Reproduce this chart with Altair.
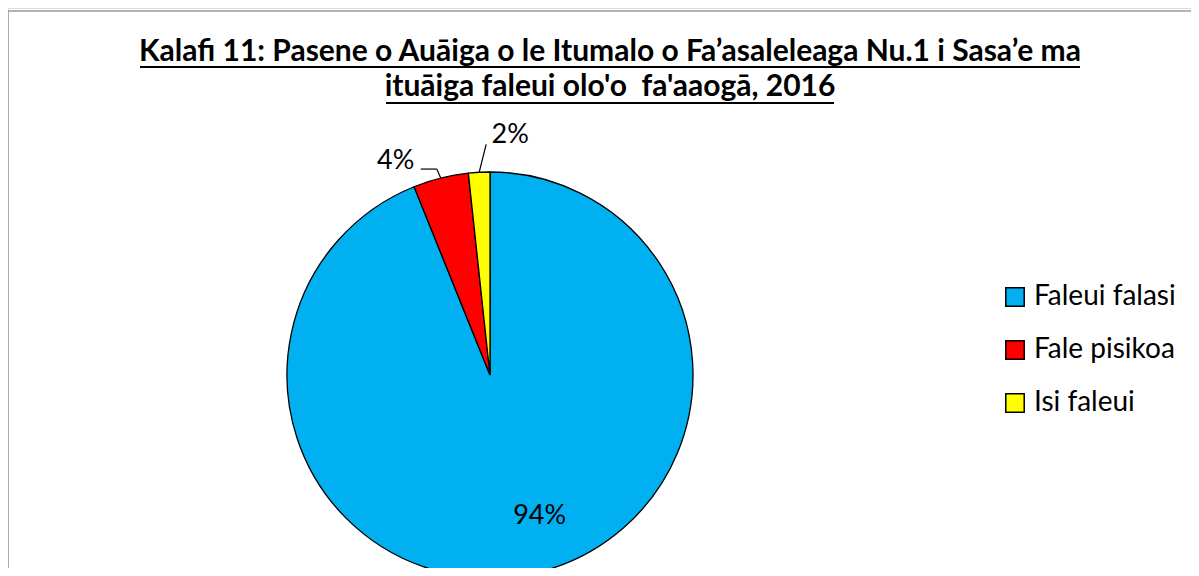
import altair as alt
import pandas as pd

# ---- data ----
categories = ["Faleui falasi", "Fale pisikoa", "Isi faleui"]
shares = [93.9, 4.4, 1.7]
pct_labels = ["94%", "4%", "2%"]
slice_order = [0, 1, 2]
colors = ["#00B0F0", "#FF0000", "#FFFF00"]

title_lines = [
    "Kalafi 11: Pasene o Auāiga o le Itumalo o Fa’asaleleaga Nu.1 i Sasa’e ma",
    "ituāiga faleui olo'o \u00a0fa'aaogā, 2016",
]

df = pd.DataFrame({"cat": categories, "share": shares, "label": pct_labels, "ord": slice_order})

FONT = "Lato"
W, H = 1183, 560
CX, CY, R = 482, 367, 203

base = alt.Chart(df)
theta = alt.Theta("share:Q", stack=True)
order = alt.Order("ord:Q")

pie = base.mark_arc(radius=R, stroke="black", strokeWidth=1.3).encode(
    theta=theta,
    order=order,
    color=alt.Color(
        "cat:N",
        scale=alt.Scale(domain=categories, range=colors),
        sort=categories,
        legend=alt.Legend(
            title=None,
            orient="none",
            legendX=993,
            legendY=275,
            symbolType="square",
            symbolSize=340,
            symbolStrokeColor="black",
            symbolStrokeWidth=1.5,
            labelFont=FONT,
            labelFontSize=28,
            labelColor="black",
            labelOffset=5,
            labelLimit=400,
            rowPadding=25,
        ),
    ),
    x=alt.value(CX),
    y=alt.value(CY),
)


def label_layer(cat, radius, dx, dy):
    return base.mark_text(
        radius=radius, dx=dx, dy=dy, font=FONT, fontSize=27, color="black",
        align="center", baseline="middle",
    ).encode(
        theta=theta,
        order=order,
        text=alt.condition(alt.datum.cat == cat, "label:N", alt.value("")),
        x=alt.value(CX),
        y=alt.value(CY),
    )


lab_big = label_layer("Faleui falasi", 145, 22, -1)
lab_red = label_layer("Fale pisikoa", R, -45, -17)
lab_yel = label_layer("Isi faleui", R, 31, -37)

geo = (
    base.transform_joinaggregate(total="sum(share)")
    .transform_window(cum="sum(share)", sort=[alt.SortField("ord")], frame=[None, 0])
    .transform_calculate(mid="2*PI*(datum.cum - datum.share/2)/datum.total")
    .transform_calculate(
        ex=f"{CX} + {R}*sin(datum.mid)",
        ey=f"{CY} - {R}*cos(datum.mid)",
    )
)

lead_yel = geo.transform_filter(alt.datum.cat == "Isi faleui").transform_calculate(
    x2="datum.ex + 7", y2="datum.ey - 28"
).mark_rule(color="black", strokeWidth=1.2).encode(
    x=alt.X("ex:Q", scale=None, axis=None),
    y=alt.Y("ey:Q", scale=None, axis=None),
    x2="x2:Q",
    y2="y2:Q",
)

lead_red1 = geo.transform_filter(alt.datum.cat == "Fale pisikoa").transform_calculate(
    x2="datum.ex - 4", y2="datum.ey - 9"
).mark_rule(color="black", strokeWidth=1.2).encode(
    x=alt.X("ex:Q", scale=None, axis=None),
    y=alt.Y("ey:Q", scale=None, axis=None),
    x2="x2:Q",
    y2="y2:Q",
)

lead_red2 = geo.transform_filter(alt.datum.cat == "Fale pisikoa").transform_calculate(
    xa="datum.ex - 4", xb="datum.ex - 20", ya="datum.ey - 9"
).mark_rule(color="black", strokeWidth=1.2).encode(
    x=alt.X("xa:Q", scale=None, axis=None),
    y=alt.Y("ya:Q", scale=None, axis=None),
    x2="xb:Q",
)

one = pd.DataFrame({"t": [0]})
title = alt.Chart(one).mark_text(
    text=title_lines, font=FONT, fontSize=30, fontWeight="bold", color="black",
    align="center", baseline="alphabetic", lineHeight=35,
).encode(x=alt.value(602), y=alt.value(53))

underline1 = alt.Chart(one).mark_rule(color="black", strokeWidth=2).encode(
    x=alt.value(132), x2=alt.value(1072), y=alt.value(59)
)
underline2 = alt.Chart(one).mark_rule(color="black", strokeWidth=2).encode(
    x=alt.value(378), x2=alt.value(826), y=alt.value(95)
)

frame_left = alt.Chart(one).mark_rule(color="#9A9A9A", strokeWidth=1.5).encode(
    x=alt.value(0), y=alt.value(3), y2=alt.value(H)
)
frame_top = alt.Chart(one).mark_rule(color="#9A9A9A", strokeWidth=1.5).encode(
    x=alt.value(0), x2=alt.value(W), y=alt.value(3)
)

chart = (
    alt.layer(pie, lab_big, lab_red, lab_yel, lead_yel, lead_red1, lead_red2,
              title, underline1, underline2, frame_left, frame_top)
    .properties(width=W, height=H, padding=0, autosize=alt.AutoSizeParams(type="none"))
    .configure_view(stroke=None)
    .configure(background="white")
)

chart.save("out.html", embed_options={"renderer": "svg", "actions": False})
